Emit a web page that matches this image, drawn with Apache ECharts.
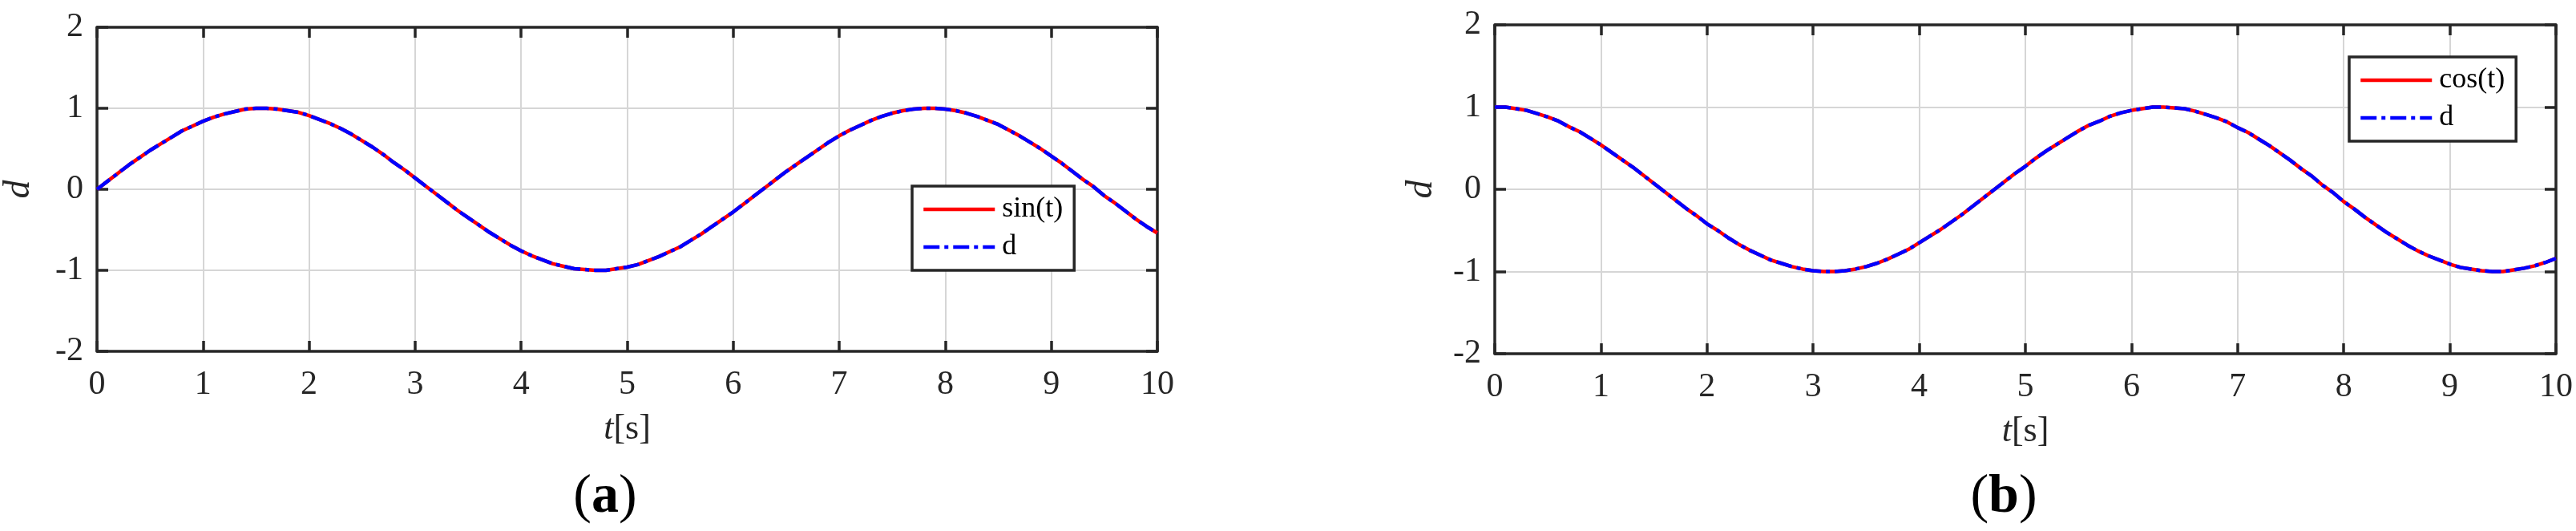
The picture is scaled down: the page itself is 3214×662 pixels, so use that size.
<!DOCTYPE html>
<html>
<head>
<meta charset="utf-8">
<script src="https://cdn.jsdelivr.net/npm/echarts@6/dist/echarts.min.js"></script>
<style>
html,body{margin:0;padding:0;background:#fff;}
#c{width:3214px;height:662px;}
</style>
</head>
<body>
<div id="c"></div>
<script>
// time samples [s]
const tValues = [0.0,0.1,0.2,0.3,0.4,0.5,0.6,0.7,0.8,0.9,1.0,1.1,1.2,1.3,1.4,1.5,1.6,1.7,1.8,1.9,2.0,2.1,2.2,2.3,2.4,2.5,2.6,2.7,2.8,2.9,3.0,3.1,3.2,3.3,3.4,3.5,3.6,3.7,3.8,3.9,4.0,4.1,4.2,4.3,4.4,4.5,4.6,4.7,4.8,4.9,5.0,5.1,5.2,5.3,5.4,5.5,5.6,5.7,5.8,5.9,6.0,6.1,6.2,6.3,6.4,6.5,6.6,6.7,6.8,6.9,7.0,7.1,7.2,7.3,7.4,7.5,7.6,7.7,7.8,7.9,8.0,8.1,8.2,8.3,8.4,8.5,8.6,8.7,8.8,8.9,9.0,9.1,9.2,9.3,9.4,9.5,9.6,9.7,9.8,9.9,10.0];

// panel (a): sin(t) reference and d
const sinValues = [0.00,0.10,0.20,0.30,0.39,0.48,0.56,0.64,0.72,0.78,0.84,0.89,0.93,0.96,0.99,1.00,1.00,0.99,0.97,0.95,0.91,0.86,0.81,0.75,0.68,0.60,0.52,0.43,0.33,0.24,0.14,0.04,-0.06,-0.16,-0.26,-0.35,-0.44,-0.53,-0.61,-0.69,-0.76,-0.82,-0.87,-0.92,-0.95,-0.98,-0.99,-1.00,-1.00,-0.98,-0.96,-0.93,-0.88,-0.83,-0.77,-0.71,-0.63,-0.55,-0.46,-0.37,-0.28,-0.18,-0.08,0.02,0.12,0.22,0.31,0.40,0.49,0.58,0.66,0.73,0.79,0.85,0.90,0.94,0.97,0.99,1.00,1.00,0.99,0.97,0.94,0.90,0.85,0.80,0.73,0.66,0.58,0.50,0.41,0.32,0.22,0.12,0.03,-0.08,-0.17,-0.27,-0.37,-0.46,-0.54];
const dAValues = [0.00,0.10,0.20,0.30,0.39,0.48,0.56,0.64,0.72,0.78,0.84,0.89,0.93,0.96,0.99,1.00,1.00,0.99,0.97,0.95,0.91,0.86,0.81,0.75,0.68,0.60,0.52,0.43,0.33,0.24,0.14,0.04,-0.06,-0.16,-0.26,-0.35,-0.44,-0.53,-0.61,-0.69,-0.76,-0.82,-0.87,-0.92,-0.95,-0.98,-0.99,-1.00,-1.00,-0.98,-0.96,-0.93,-0.88,-0.83,-0.77,-0.71,-0.63,-0.55,-0.46,-0.37,-0.28,-0.18,-0.08,0.02,0.12,0.22,0.31,0.40,0.49,0.58,0.66,0.73,0.79,0.85,0.90,0.94,0.97,0.99,1.00,1.00,0.99,0.97,0.94,0.90,0.85,0.80,0.73,0.66,0.58,0.50,0.41,0.32,0.22,0.12,0.03,-0.08,-0.17,-0.27,-0.37,-0.46,-0.54];

// panel (b): cos(t) reference and d
const cosValues = [1.00,1.00,0.98,0.96,0.92,0.88,0.83,0.76,0.70,0.62,0.54,0.45,0.36,0.27,0.17,0.07,-0.03,-0.13,-0.23,-0.32,-0.42,-0.50,-0.59,-0.67,-0.74,-0.80,-0.86,-0.90,-0.94,-0.97,-0.99,-1.00,-1.00,-0.99,-0.97,-0.94,-0.90,-0.85,-0.79,-0.73,-0.65,-0.57,-0.49,-0.40,-0.31,-0.21,-0.11,-0.01,0.09,0.19,0.28,0.38,0.47,0.55,0.63,0.71,0.78,0.83,0.89,0.93,0.96,0.98,1.00,1.00,0.99,0.98,0.95,0.91,0.87,0.82,0.75,0.69,0.61,0.53,0.44,0.35,0.25,0.16,0.05,-0.04,-0.15,-0.24,-0.34,-0.43,-0.52,-0.60,-0.68,-0.75,-0.81,-0.86,-0.91,-0.95,-0.97,-0.99,-1.00,-1.00,-0.98,-0.96,-0.93,-0.89,-0.84];
const dBValues = [1.00,1.00,0.98,0.96,0.92,0.88,0.83,0.76,0.70,0.62,0.54,0.45,0.36,0.27,0.17,0.07,-0.03,-0.13,-0.23,-0.32,-0.42,-0.50,-0.59,-0.67,-0.74,-0.80,-0.86,-0.90,-0.94,-0.97,-0.99,-1.00,-1.00,-0.99,-0.97,-0.94,-0.90,-0.85,-0.79,-0.73,-0.65,-0.57,-0.49,-0.40,-0.31,-0.21,-0.11,-0.01,0.09,0.19,0.28,0.38,0.47,0.55,0.63,0.71,0.78,0.83,0.89,0.93,0.96,0.98,1.00,1.00,0.99,0.98,0.95,0.91,0.87,0.82,0.75,0.69,0.61,0.53,0.44,0.35,0.25,0.16,0.05,-0.04,-0.15,-0.24,-0.34,-0.43,-0.52,-0.60,-0.68,-0.75,-0.81,-0.86,-0.91,-0.95,-0.97,-0.99,-1.00,-1.00,-0.98,-0.96,-0.93,-0.89,-0.84];

const seriesNamesA = ['sin(t)', 'd'];
const seriesNamesB = ['cos(t)', 'd'];
const panelLabels = ['a', 'b'];
const xAxisName = ['t', '[s]'];
const yAxisName = 'd';

const FONT = '"Liberation Serif", "Times New Roman", serif';
const INK = '#262626';
const pair = (xs, ys) => xs.map((x, i) => [x, ys[i]]);

const grids = [
  {left: 121, top: 34, width: 1323, height: 404},
  {left: 1865, top: 31, width: 1324, height: 410}
];

function mainX(gi) {
  return {
    type: 'value', gridIndex: gi, min: 0, max: 10, interval: 1, position: 'bottom',
    name: '{i|' + xAxisName[0] + '}{r|' + xAxisName[1] + '}', nameLocation: 'middle', nameGap: 75,
    nameTextStyle: {fontFamily: FONT, fontSize: 44, color: INK,
      rich: {i: {fontFamily: FONT, fontSize: 44, fontStyle: 'italic', color: INK},
             r: {fontFamily: FONT, fontSize: 44, color: INK}}},
    axisLine: {show: true, onZero: false, lineStyle: {color: INK, width: 3.5}},
    axisTick: {show: true, inside: true, length: 13, lineStyle: {color: INK, width: 3.5}},
    axisLabel: {fontFamily: FONT, fontSize: 42, color: INK, margin: 21},
    splitLine: {show: true, lineStyle: {color: '#d6d6d6', width: 2}}
  };
}
function topX(gi) {
  return {
    type: 'value', gridIndex: gi, min: 0, max: 10, interval: 1, position: 'top',
    axisLine: {show: true, onZero: false, lineStyle: {color: INK, width: 3.5}},
    axisTick: {show: true, inside: true, length: 13, lineStyle: {color: INK, width: 3.5}},
    axisLabel: {show: false}, splitLine: {show: false}
  };
}
function mainY(gi, gap) {
  return {
    type: 'value', gridIndex: gi, min: -2, max: 2, interval: 1, position: 'left',
    name: yAxisName, nameLocation: 'middle', nameGap: gap,
    nameTextStyle: {fontFamily: FONT, fontSize: 46, fontStyle: 'italic', color: INK},
    axisLine: {show: true, onZero: false, lineStyle: {color: INK, width: 3.5}},
    axisTick: {show: true, inside: true, length: 14, lineStyle: {color: INK, width: 3.5}},
    axisLabel: {fontFamily: FONT, fontSize: 42, color: INK, margin: 17},
    splitLine: {show: true, lineStyle: {color: '#d6d6d6', width: 2}}
  };
}
function rightY(gi) {
  return {
    type: 'value', gridIndex: gi, min: -2, max: 2, interval: 1, position: 'right',
    axisLine: {show: true, onZero: false, lineStyle: {color: INK, width: 3.5}},
    axisTick: {show: true, inside: true, length: 14, lineStyle: {color: INK, width: 3.5}},
    axisLabel: {show: false}, splitLine: {show: false}
  };
}

const refStyle = {color: '#ff0000', width: 4.5, type: 'solid'};
const dStyle = {color: '#0000ff', width: 4.5, type: [20, 6, 5, 6]};

function lineSeries(name, xi, yi, data, style, z) {
  return {
    type: 'line', name: name, xAxisIndex: xi, yAxisIndex: yi, data: data,
    symbol: 'none', showSymbol: false, lineStyle: style, itemStyle: {color: style.color},
    z: z, animation: false
  };
}

function legendBox(left, top, refName, dKey) {
  return {
    show: true, orient: 'vertical', left: left, top: top,
    data: [{name: refName}, {name: dKey}],
    formatter: n => n === dKey ? 'd' : n,
    itemWidth: 89, itemHeight: 14, itemGap: 11,
    padding: [11, 14, 11, 12],
    borderColor: INK, borderWidth: 3.5, backgroundColor: '#fff',
    itemStyle: {opacity: 0},
    lineStyle: {width: 4.5},
    textStyle: {fontFamily: FONT, fontSize: 36, color: '#000', lineHeight: 36, padding: [0, 0, 0, 4]},
    selectedMode: false
  };
}

const labelStyle = {fontFamily: FONT, fontSize: 68, fontWeight: 'normal', color: '#000',
  rich: {b: {fontFamily: FONT, fontSize: 68, fontWeight: 'bold', color: '#000'}}};

const chart = echarts.init(document.getElementById('c'), null, {renderer: 'canvas'});
chart.setOption({
  animation: false,
  backgroundColor: '#ffffff',
  grid: grids,
  xAxis: [mainX(0), topX(0), mainX(1), topX(1)],
  yAxis: [mainY(0, 74), rightY(0), mainY(1, 68), rightY(1)],
  legend: [
    legendBox(1138, 232, seriesNamesA[0], 'dA'),
    legendBox(2931, 71, seriesNamesB[0], 'dB')
  ],
  title: [
    {text: '({b|' + panelLabels[0] + '})', left: 750, top: 581, textAlign: 'center', textStyle: labelStyle},
    {text: '({b|' + panelLabels[1] + '})', left: 2495, top: 581, textAlign: 'center', textStyle: labelStyle}
  ],
  series: [
    lineSeries(seriesNamesA[0], 0, 0, pair(tValues, sinValues), refStyle, 3),
    lineSeries('dA', 0, 0, pair(tValues, dAValues), dStyle, 4),
    lineSeries(seriesNamesB[0], 2, 2, pair(tValues, cosValues), refStyle, 3),
    lineSeries('dB', 2, 2, pair(tValues, dBValues), dStyle, 4)
  ]
});
</script>
</body>
</html>
